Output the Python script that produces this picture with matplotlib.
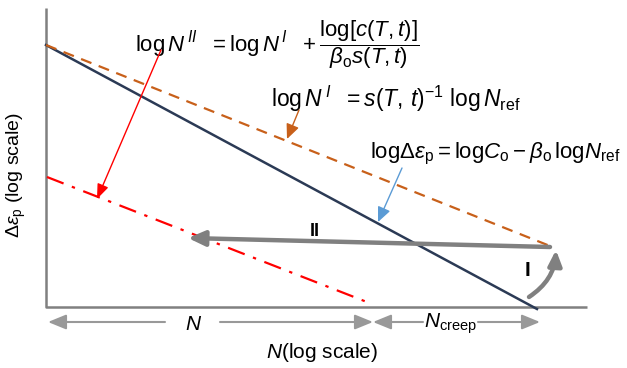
import matplotlib.pyplot as plt
import matplotlib as mpl

mpl.rcParams['mathtext.fontset'] = 'custom'
mpl.rcParams['mathtext.rm'] = 'Liberation Sans'
mpl.rcParams['mathtext.it'] = 'Liberation Sans:italic'
mpl.rcParams['mathtext.bf'] = 'Liberation Sans:bold'
mpl.rcParams['font.family'] = 'Liberation Sans'

# schematic geometry, in picture units (x right, y down); each entry is (xs, ys)
axis_x = [46, 46, 587]
axis_y = [8, 307, 307]
reference_line = ([46, 537], [45, 309])      # log d_eps = log C - beta log N_ref
shifted_line = ([46, 550], [45, 246])        # log N'
creep_line = ([47, 372], [177, 304])         # log N''
path_II = ([550, 188], [247, 238])
path_I = ([529, 556], [297, 250])
span_N = [48, 373]
span_creep = [373, 540]
span_y = 322

NAVY = '#2b3a55'
ORANGE = '#c8601a'
GRAY = '#808080'

fig = plt.figure(figsize=(6.27, 3.68), dpi=100)
ax = fig.add_axes([0, 0, 1, 1])
ax.set_xlim(0, 627)
ax.set_ylim(368, 0)
ax.axis('off')

ax.plot(axis_x, axis_y, color=GRAY, lw=1.8, solid_capstyle='butt')
ax.plot(*reference_line, color=NAVY, lw=1.8)
ax.plot(*shifted_line, color=ORANGE, lw=1.6, dashes=(5, 3.5))
ax.plot(*creep_line, color='red', lw=1.6, dashes=(8, 4, 1.5, 4))

# path II (horizontal grey arrow)
ax.annotate('', xy=(path_II[0][1], path_II[1][1]), xytext=(path_II[0][0], path_II[1][0]),
            arrowprops=dict(arrowstyle='-|>,head_length=1.0,head_width=0.45', color=GRAY, lw=3.2,
                            shrinkA=0, shrinkB=0))
# path I (curved)
ax.annotate('', xy=(path_I[0][1], path_I[1][1]), xytext=(path_I[0][0], path_I[1][0]),
            arrowprops=dict(arrowstyle='-|>,head_length=0.9,head_width=0.4', color=GRAY, lw=3.2,
                            shrinkA=0, shrinkB=0, connectionstyle='arc3,rad=0.25'))
ax.text(315, 231, 'II', fontsize=13, fontweight='bold', ha='center', va='center')
ax.text(527, 271, 'I', fontsize=15, fontweight='bold', ha='center', va='center')

# bottom span arrows
arrow_kw = dict(arrowstyle='-|>,head_length=1.1,head_width=0.45', color='#999999', lw=1.5,
                shrinkA=0, shrinkB=0)
ax.annotate('', xy=(span_N[0], span_y), xytext=(165, span_y), arrowprops=arrow_kw)
ax.annotate('', xy=(span_N[1], span_y), xytext=(220, span_y), arrowprops=arrow_kw)
ax.annotate('', xy=(span_creep[0], span_y), xytext=(423, span_y), arrowprops=arrow_kw)
ax.annotate('', xy=(span_creep[1], span_y), xytext=(478, span_y), arrowprops=arrow_kw)
ax.text(194, 324, r'$\mathit{N}$', fontsize=15, ha='center', va='center')
ax.text(451, 324, r'$\mathit{N}_{\mathrm{creep}}$', fontsize=15, ha='center', va='center')

# axis titles
ax.text(322, 353, r'$\mathit{N}$(log scale)', fontsize=15, ha='center', va='center')
ax.text(16, 175, r'$\Delta\mathit{\varepsilon}_{\mathrm{p}}$ (log scale)', fontsize=14,
        rotation=90, ha='center', va='center')

# equations with pointer arrows
ax.text(135, 45, r"$\mathrm{log}\,\mathit{N}^{\,II}\ \ =\mathrm{log}\,\mathit{N}^{\,I}\ \ +\dfrac{\mathrm{log}[\mathit{c}(\mathit{T},\mathit{t})]}{\mathit{\beta}_{\mathrm{o}}\mathit{s}(\mathit{T},\mathit{t})}$",
        fontsize=16, ha='left', va='center')
ax.annotate('', xy=(97, 199), xytext=(161, 50),
            arrowprops=dict(arrowstyle='-|>,head_length=0.9,head_width=0.35', color='red', lw=1.0,
                            shrinkA=0, shrinkB=0))

ax.text(271, 99, r"$\mathrm{log}\,\mathit{N}^{\,I}\ \ =\mathit{s}(\mathit{T},\,\mathit{t})^{-1}\ \mathrm{log}\,\mathit{N}_{\mathrm{ref}}$",
        fontsize=16.5, ha='left', va='center')
ax.annotate('', xy=(287, 139), xytext=(299, 110),
            arrowprops=dict(arrowstyle='-|>,head_length=0.9,head_width=0.4', color=ORANGE, lw=1.0,
                            shrinkA=0, shrinkB=0))

ax.text(370, 154, r"$\mathrm{log}\Delta\mathit{\varepsilon}_{\mathrm{p}}=\mathrm{log}\mathit{C}_{\mathrm{o}}-\mathit{\beta}_{\mathrm{o}}\,\mathrm{log}\mathit{N}_{\mathrm{ref}}$",
        fontsize=16, ha='left', va='center')
ax.annotate('', xy=(378, 222), xytext=(402, 168),
            arrowprops=dict(arrowstyle='-|>,head_length=0.9,head_width=0.4', color='#5b9bd5', lw=1.0,
                            shrinkA=0, shrinkB=0))

fig.savefig('out.png', dpi=100)
